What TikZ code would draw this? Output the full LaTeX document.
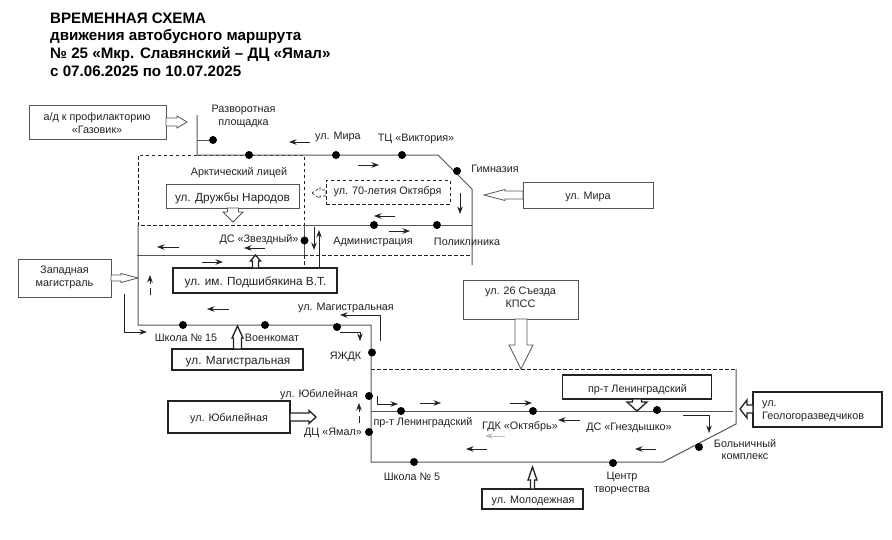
\documentclass[tikz,border=0pt]{standalone}
\usepackage{fontspec}
\setmainfont{Liberation Sans}
\usetikzlibrary{arrows.meta}
\definecolor{ink}{HTML}{222222}
\definecolor{route}{HTML}{555555}
\tikzset{
  lbl/.style={inner sep=0pt,text=ink,yshift=-1.5pt,font=\fontsize{10.8pt}{12.8pt}\selectfont,align=center},
  lblbig/.style={lbl,font=\fontsize{11.8pt}{14pt}\selectfont},
  thinbox/.style={draw=route,line width=0.9pt,fill=white,inner sep=0pt},
  thickbox/.style={draw=ink,line width=1.3pt,fill=white,inner sep=0pt},
  dashbox/.style={draw=ink,line width=0.7pt,dash pattern=on 3.5pt off 2.5pt,fill=white,inner sep=0pt},
  stop/.style={circle,fill=black,inner sep=0pt,minimum size=8pt},
  road/.style={draw=route,line width=1pt},
  zone/.style={draw=ink,line width=0.7pt,dash pattern=on 3.5pt off 2.5pt},
  dirn/.style={draw=ink,line width=0.7pt,-{Stealth[length=7.5pt,width=5.5pt]}},
  thinblock/.style={draw=route,line width=0.8pt,fill=white},
  thickblock/.style={draw=ink,line width=1.3pt,fill=white},
  dashblock/.style={draw=ink,line width=0.6pt,dash pattern=on 3pt off 2pt,fill=white},
}
% style, tip, angle, total length, head length, shaft half width, head half width
\newcommand{\blockarrow}[7]{%
  \draw[#1,shift={(#2)},rotate=#3,line join=miter]
    (0pt,0pt) -- (-#5pt,#7pt) -- (-#5pt,#6pt) -- (-#4pt,#6pt)
    -- (-#4pt,-#6pt) -- (-#5pt,-#6pt) -- (-#5pt,-#7pt) -- cycle;}
\begin{document}
\begin{tikzpicture}[x=1pt,y=-1pt]
\useasboundingbox (0,0) rectangle (892,539);
\fill[white] (0,0) rectangle (892,539);
% title
\node[inner sep=0pt,anchor=north west,align=left,text=black,font=\bfseries\fontsize{15.15pt}{17.7pt}\selectfont] (title) at (50,12.5)
 {ВРЕМЕННАЯ СХЕМА\\движения автобусного маршрута\\№ 25 «Мкр. Славянский – ДЦ «Ямал»\\с 07.06.2025 по 10.07.2025};
% route points
\coordinate (a1) at (197,115); \coordinate (a2) at (197,155);
\coordinate (b1) at (438,155); \coordinate (b2) at (472,189); \coordinate (b3) at (472,265);
\coordinate (c1) at (304,225); \coordinate (c2) at (472,225);
\coordinate (d1) at (137,255); \coordinate (d2) at (304,255);
\coordinate (e0) at (138,225); \coordinate (e1) at (138,325); \coordinate (e2) at (371,325);
\coordinate (f1) at (371,462); \coordinate (g1) at (663,462); \coordinate (g2) at (736,424); \coordinate (g3) at (736,369);
\coordinate (h1) at (371,411); \coordinate (h2) at (733,411);
\coordinate (i1) at (304,267); \coordinate (i2) at (472,255);\coordinate (i0) at (304,155);
\coordinate (j0) at (138,155); \coordinate (j2) at (371,369);
% dashed zones
\draw[zone] (a2) -- (j0) -- (e0) -- (c1) -- (i0) -- (a2);
\draw[zone] (d2) -- (i2);
\draw[zone] (d2) -- (i1);
\draw[zone] (j2) -- (g3);
% roads
\draw[road] (a1) -- (a2) -- (b1) -- (b2) -- (b3);
\draw[road] (c1) -- (c2);
\draw[road] (c1) -- (d2);
\draw[road] (d1) -- (d2);
\draw[road] (e0) -- (e1) -- (e2) -- (f1) -- (g1) -- (g2) -- (g3);
\draw[road] (h1) -- (h2);
% stops
\node[stop] (s1) at (213,140) {};
\draw[road] (197,140) -- (s1);
\node[stop] (s2) at (249,155) {};
\node[stop] (s3) at (336,155) {};
\node[stop] (s4) at (402,155) {};
\node[stop] (s5) at (457,171) {};
\node[stop] (s6) at (374,225) {};
\node[stop] (s7) at (437,225) {};
\node[stop] (s8) at (304.5,240.5) {};
\node[stop] (s9) at (183,325) {};
\node[stop] (s10) at (265,325) {};
\node[stop] (s11) at (337,327) {};
\node[stop] (s12) at (372,352.5) {};
\node[stop] (s13) at (369,396) {};
\node[stop] (s14) at (369,432) {};
\node[stop] (s15) at (401,411) {};
\node[stop] (s16) at (533,411) {};
\node[stop] (s17) at (657,410) {};
\node[stop] (s18) at (699,447) {};
\node[stop] (s19) at (613,463) {};
\node[stop] (s20) at (414,462) {};
% boxes
\node[thinbox,minimum width=137pt,minimum height=34pt] (gaz) at (97.5,122) {};
\node[thinbox,minimum width=93pt,minimum height=38pt] (zap) at (64.5,278) {};
\node[thinbox,minimum width=133pt,minimum height=24pt] (dru) at (233,196.5) {};
\node[dashbox,minimum width=124pt,minimum height=24pt] (sem) at (388,192) {};
\node[thinbox,minimum width=130pt,minimum height=26pt] (mir) at (588,195) {};
\node[thickbox,minimum width=164pt,minimum height=25pt] (pod) at (255,280.5) {};
\node[thickbox,minimum width=131pt,minimum height=21pt] (mag) at (237.5,359.5) {};
\node[thickbox,minimum width=122pt,minimum height=32pt] (yub) at (229,417) {};
\node[thinbox,minimum width=115pt,minimum height=39pt] (kps) at (520.5,299.5) {};
\node[thickbox,minimum width=149pt,minimum height=24pt] (len) at (637,387) {};
\node[thickbox,minimum width=129pt,minimum height=35pt] (geo) at (817.5,409.5) {};
\node[thickbox,minimum width=101pt,minimum height=20pt] (mol) at (532.5,499) {};
% box texts
\node[lbl] (gazT) at (97,122) {а/д к профилакторию\\«Газовик»};
\node[lbl] (zapT) at (64.5,275.5) {Западная\\магистраль};
\node[lblbig] (druT) at (232.5,196.5) {ул. Дружбы Народов};
\node[lbl] (semT) at (387.5,190) {ул. 70-летия Октября};
\node[lbl] (mirT) at (588,195) {ул. Мира};
\node[lblbig] (podT) at (255.5,281) {ул. им. Подшибякина В.Т.};
\node[lblbig] (magT) at (238,360) {ул. Магистральная};
\node[lbl] (yubT) at (229,417) {ул. Юбилейная};
\node[lbl] (kpsT) at (520.5,296) {ул. 26 Съезда\\КПСС};
\node[lbl] (lenT) at (637.5,388) {пр-т Ленинградский};
\node[lbl,align=left,anchor=west] (geoT) at (762,410) {ул.\\Геологоразведчиков};
\node[lbl] (molT) at (533,499.5) {ул. Молодежная};
% block arrows
\blockarrow{thinblock}{187,122}{0}{21}{10}{4}{6}
\blockarrow{thinblock}{138,278}{0}{27}{17}{3}{4.5}
\blockarrow{thinblock}{233,222}{-90}{14}{10}{5.5}{10}
\blockarrow{dashblock}{312,193}{180}{14}{8}{3}{5.5}
\blockarrow{thinblock}{484,195}{180}{39}{21}{4}{5.5}
\blockarrow{thickblock}{255.5,255}{90}{13}{6}{3}{5}
\blockarrow{thickblock}{237.5,326}{90}{23}{12}{4}{5.5}
\blockarrow{thickblock}{316,417}{0}{26}{7}{4}{6.5}
\blockarrow{thinblock}{521,369}{-90}{50}{24}{6}{12}
\blockarrow{thickblock}{637,411}{-90}{12}{9}{4.5}{10}
\blockarrow{thickblock}{740,409}{180}{13}{7}{4}{9}
\blockarrow{thickblock}{532.5,467}{90}{22}{13}{2}{4.5}
% direction arrows
\draw[dirn] (310,142) -- (289,142);
\draw[dirn] (358,165) -- (379,165);
\draw[dirn] (460,193) -- (460,214);
\draw[dirn] (395,216) -- (374,216);
\draw[dirn] (389,231) -- (410,231);
\draw[dirn] (179,247) -- (157,247);
\draw[dirn] (265,248) -- (244,248);
\draw[dirn] (202,262) -- (223,262);
\draw[draw=ink,line width=0.7pt] (150,295) -- (150,288);
\draw[dirn] (150,284) -- (150,275);
\draw[dirn] (229,309) -- (207,309);
\draw[dirn] (124,294) -- (124,332) -- (147,332);
\draw[dirn,line width=1pt] (314,227) -- (314,250);
\draw[dirn,line width=1pt] (319,267) -- (319,230);
\draw[dirn] (380,341) -- (380,315) -- (340,315);
\draw[dirn] (340,332) -- (360,332) -- (360,341);
\draw[draw=ink,line width=0.7pt] (359,423) -- (359,416);
\draw[dirn] (359,412) -- (359,403);
\draw[dirn] (377,396) -- (377,404) -- (398,404);
\draw[dirn] (420,403) -- (441,403);
\draw[dirn] (510,403) -- (532,403);
\draw[dirn] (580,420) -- (558,420);
\draw[dirn,draw=ink!30] (505,436) -- (485,436);
\draw[dirn] (487,449) -- (466,449);
\draw[dirn] (683,415) -- (709,415) -- (709,433);
\draw[dirn] (656,449) -- (635,449);
% labels
\node[lbl] (l1) at (243.5,114.5) {Разворотная\\площадка};
\node[lbl] (l2) at (338,135) {ул. Мира};
\node[lbl] (l3) at (416,137) {ТЦ «Виктория»};
\node[lbl] (l4) at (495,167) {Гимназия};
\node[lbl] (l5) at (239,171) {Арктический лицей};
\node[lbl] (l6) at (373,240.5) {Администрация};
\node[lbl] (l7) at (467,240.5) {Поликлиника};
\node[lbl] (l8) at (259,238) {ДС «Звездный»};
\node[lbl] (l9) at (186,336) {Школа № 15};
\node[lbl] (l10) at (272,336) {Военкомат};
\node[lbl] (l11) at (346,306) {ул. Магистральная};
\node[lbl] (l12) at (345.5,355.5) {ЯЖДК};
\node[lbl] (l13) at (319,393.5) {ул. Юбилейная};
\node[lbl] (l14) at (333,431) {ДЦ «Ямал»};
\node[lbl] (l15) at (423,421.5) {пр-т Ленинградский};
\node[lbl] (l16) at (520,425.5) {ГДК «Октябрь»};
\node[lbl] (l17) at (629,426) {ДС «Гнездышко»};
\node[lbl] (l18) at (412,475) {Школа № 5};
\node[lbl] (l19) at (622,481.5) {Центр\\творчества};
\node[lbl] (l20) at (745,448) {Больничный\\комплекс};
\end{tikzpicture}
\end{document}
